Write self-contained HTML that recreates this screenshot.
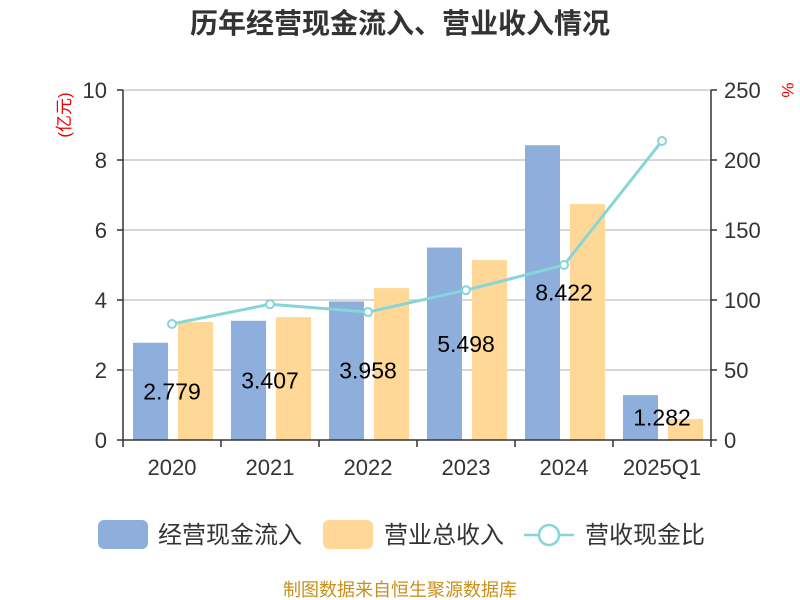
<!DOCTYPE html>
<html><head><meta charset="utf-8"><style>
body{margin:0;background:#fff;}
svg{display:block;font-family:"Liberation Sans","Noto Sans CJK SC",sans-serif;}
</style></head><body>
<svg id="c" width="800" height="600">
<text x="400" y="33" text-anchor="middle" font-size="28" font-weight="bold" fill="#333">历年经营现金流入、营业收入情况</text>
<text transform="translate(70,115) rotate(-90)" text-anchor="middle" font-size="17" fill="#e00">(亿元)</text>
<text transform="translate(782,90) rotate(90)" text-anchor="middle" font-size="17" fill="#e00">%</text>
<g id="grid"></g><g id="bars"></g><g id="line"></g><g id="axes"></g><g id="labels"></g>
<g>
<rect x="98" y="520" width="50" height="29" rx="6" fill="#8eaedb"/>
<text x="158" y="543" font-size="24" fill="#333">经营现金流入</text>
<rect x="323" y="520" width="50" height="29" rx="6" fill="#ffd898"/>
<text x="384" y="543" font-size="24" fill="#333">营业总收入</text>
<line x1="524" y1="535" x2="574" y2="535" stroke="#86d5d8" stroke-width="2.5"/>
<circle cx="549" cy="535" r="10" fill="#fff" stroke="#86d5d8" stroke-width="2.5"/>
<text x="585" y="543" font-size="24" fill="#333">营收现金比</text>
</g>
<text x="400" y="596" text-anchor="middle" font-size="18" fill="#c8901a">制图数据来自恒生聚源数据库</text>
</svg>
<script>
const categories=["2020","2021","2022","2023","2024","2025Q1"];
const cashInflow=[2.779,3.407,3.958,5.498,8.422,1.282];
const revenue=[3.37,3.51,4.34,5.14,6.74,0.6];
const ratio=[82.9,97,91.4,107,125,213.6];
const leftTicks=[0,2,4,6,8,10];
const rightTicks=[0,50,100,150,200,250];
const NS="http://www.w3.org/2000/svg";
const L=123,R=711,T=90,B=440;
const bw=(R-L)/categories.length;
const yL=v=>B-(v/10)*(B-T);
const yR=v=>B-(v/250)*(B-T);
function mk(p,tag,a){const e=document.createElementNS(NS,tag);for(const k in a)e.setAttribute(k,a[k]);document.getElementById(p).appendChild(e);return e;}
leftTicks.forEach((t,i)=>{
 if(t>0){const g=mk("grid","line",{x1:L,x2:R,y1:yL(t),y2:yL(t),stroke:"#ccc","stroke-width":1.5});
 
 }
 const tx=mk("axes","text",{x:107,y:yL(t)+8,"text-anchor":"end","font-size":22,fill:"#333"});tx.textContent=t;
 
 
 mk("axes","line",{x1:L-6,x2:L,y1:yL(t),y2:yL(t),stroke:"#333","stroke-width":1.5});
});
rightTicks.forEach(t=>{
 const tx=mk("axes","text",{x:724,y:yR(t)+8,"font-size":22,fill:"#333"});tx.textContent=t;
 
 
 mk("axes","line",{x1:R,x2:R+6,y1:yR(t),y2:yR(t),stroke:"#333","stroke-width":1.5});
});
mk("axes","line",{x1:L,x2:L,y1:T,y2:B,stroke:"#333","stroke-width":1.5});
mk("axes","line",{x1:R,x2:R,y1:T,y2:B,stroke:"#333","stroke-width":1.5});
mk("axes","line",{x1:L,x2:R,y1:B,y2:B,stroke:"#333","stroke-width":1.5});
const pts=[];
categories.forEach((c,i)=>{
 const x0=L+i*bw;
 mk("axes","line",{x1:x0,x2:x0,y1:B,y2:B+7,stroke:"#333","stroke-width":1.5});
 if(i==categories.length-1)mk("axes","line",{x1:R,x2:R,y1:B,y2:B+7,stroke:"#333","stroke-width":1.5});
 const xl=mk("axes","text",{x:x0+bw/2,y:475,"text-anchor":"middle","font-size":22,fill:"#333"});xl.textContent=c;
 
 
 const b1=mk("bars","rect",{x:x0+10,y:yL(cashInflow[i]),width:35,height:B-yL(cashInflow[i]),fill:"#8eaedb"});
 
 
 const b2=mk("bars","rect",{x:x0+55,y:yL(revenue[i]),width:35,height:B-yL(revenue[i]),fill:"#ffd898"});
 
 
 const lb=mk("labels","text",{x:x0+bw/2,y:(yL(cashInflow[i])+B)/2+8,"text-anchor":"middle","font-size":23,fill:"#000"});
 lb.textContent=cashInflow[i];
 
 
 pts.push([x0+bw/2,yR(ratio[i])]);
});
const pl=mk("line","polyline",{points:pts.map(p=>p.join(",")).join(" "),fill:"none",stroke:"#86d5d8","stroke-width":3});


pts.forEach(p=>{const c=mk("line","circle",{cx:p[0],cy:p[1],r:4,fill:"#fff",stroke:"#86d5d8","stroke-width":2});
 
 });
</script>
</body></html>
